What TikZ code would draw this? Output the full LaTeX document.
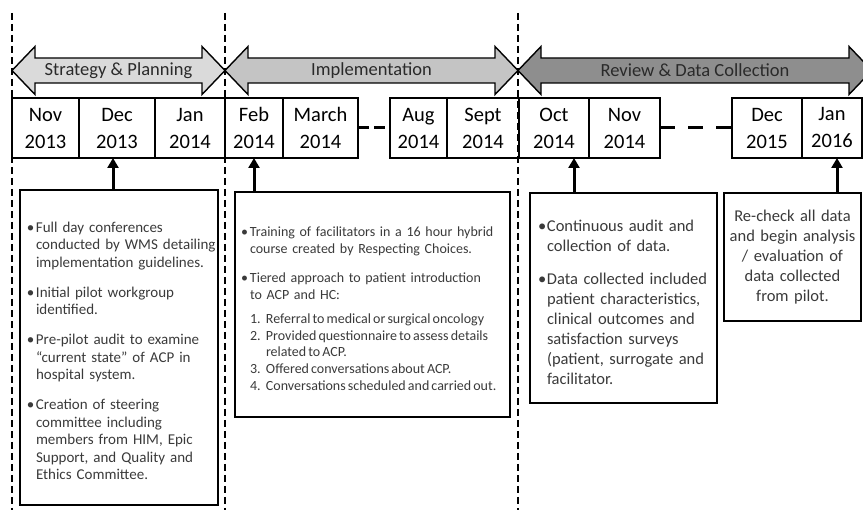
\documentclass[tikz,border=0pt]{standalone}
\usepackage{fontspec}
\setmainfont{Carlito}
\usepackage{tikz}
\usetikzlibrary{arrows.meta,calc}
\definecolor{planfill}{HTML}{DADADA}
\definecolor{implfill}{HTML}{C4C4C4}
\definecolor{reviewfill}{HTML}{8E8E8E}
\definecolor{textgray}{HTML}{3A3A3A}
\definecolor{labelgray}{HTML}{2A2A2A}
% hanging item: left offset, marker width, marker, text
\newcommand\hitem[4]{\par\hangindent=\dimexpr#1+#2\relax\hangafter=1\noindent
  \hspace*{#1}\makebox[#2][l]{#3}#4\par}
\newcommand\bitem[1]{\hitem{5pt}{9pt}{\textbullet}{#1}}
\newcommand\nitem[2]{\hitem{15pt}{16pt}{#1.}{#2}}

\begin{document}
\begin{tikzpicture}[x=1pt,y=-1pt,
    vline/.style={line width=1.8, dash pattern=on 7 off 4},
    phase/.style={draw, line width=1.4, line join=miter},
    phaselabel/.style={font=\fontsize{18.5}{22}\selectfont, text=labelgray},
    monthbox/.style={draw, line width=1.3, minimum height=60, outer sep=0,
                     inner sep=0, align=center, font=\fontsize{20.5}{27}\selectfont},
    notebox/.style={draw, line width=2.4, outer sep=0, inner sep=0,
                    align=left, text=textgray},
    uparrow/.style={line width=3, -{Triangle[length=10pt,width=11pt]}},
    gapdash/.style={line width=3}]
  \useasboundingbox (0,0) rectangle (863,510);
  \clip (0,0) rectangle (863,510);
  % phase separators
  \foreach \xv in {12,225,518}
    \draw[vline] (\xv,13) -- (\xv,510);
  % phase arrows
  \draw[phase, fill=planfill] (12,70.5) -- (35,46.5) -- (35,58) -- (202,58)
    -- (202,46.5) -- (225,70.5) -- (202,94.5) -- (202,83) -- (35,83) -- (35,94.5) -- cycle;
  \draw[phase, fill=implfill] (225,70.5) -- (248,46.5) -- (248,58) -- (495,58)
    -- (495,46.5) -- (518,70.5) -- (495,94.5) -- (495,83) -- (248,83) -- (248,94.5) -- cycle;
  \draw[phase, fill=reviewfill] (518,70.5) -- (541,46.5) -- (541,58) -- (849,58)
    -- (849,46.5) -- (872,70.5) -- (849,94.5) -- (849,83) -- (541,83) -- (541,94.5) -- cycle;
  \node[phaselabel] (strategy) at (118.5,70.5) {Strategy \& Planning};
  \node[phaselabel] (implement) at (371.5,70.5) {Implementation};
  \node[phaselabel] (review) at (695,70.5) {Review \& Data Collection};
  % months
  \foreach \nm/\xa/\xb/\mon/\yr in {nov13/12/79/Nov/2013, dec13/79/155/Dec/2013,
      jan14/155/225/Jan/2014, feb14/225/283/Feb/2014, mar14/283/358/March/2014,
      aug14/390/447/Aug/2014, sep14/447/519/Sept/2014, oct14/519/589/Oct/2014,
      nov14/589/660/Nov/2014, dec15/732/802/Dec/2015, jan16/802/862/Jan/2016}
    \node[monthbox, minimum width={\xb-\xa}] (\nm) at ({(\xa+\xb)/2},128) {\mon\\\yr};
  \draw[gapdash, dash pattern=on 11 off 5] (mar14.east) -- (aug14.west);
  \draw[gapdash, dash pattern=on 15 off 13] (nov14.east) -- (dec15.west);
  % detail boxes
  \node[notebox, minimum width=198, minimum height=315, text width=194,
        font=\fontsize{15}{17.5}\selectfont] (planbox) at (119,347.5) {%
    \bitem{Full day conferences\newline conducted by WMS detailing\newline implementation guidelines.}
    \vspace{12.5pt}
    \bitem{Initial pilot workgroup\newline identified.}
    \vspace{12.5pt}
    \bitem{Pre-pilot audit to examine\newline “current state” of ACP in\newline hospital system.}
    \vspace{12.5pt}
    \bitem{Creation of steering\newline committee including\newline members from HIM, Epic\newline Support, and Quality and\newline Ethics Committee.}};
  \node[notebox, minimum width=275, minimum height=225, text width=275,
        font=\fontsize{14}{17.5}\selectfont] (implbox) at (372.5,304.5) {%
    \hitem{6pt}{9pt}{\textbullet}{Training of facilitators in a 16 hour hybrid\newline course created by Respecting Choices.}
    \vspace{11pt}
    \hitem{6pt}{9pt}{\textbullet}{Tiered approach to patient introduction\newline to ACP and HC:}
    \vspace{7pt}
    {\fontsize{14}{16.7}\selectfont\spaceskip=0.15em plus 0.05em
    \nitem{1}{Referral to medical or surgical oncology}
    \nitem{2}{Provided questionnaire to assess details\newline related to ACP.}
    \nitem{3}{Offered conversations about ACP.}
    \nitem{4}{Conversations scheduled and carried out.}}};
  \node[notebox, minimum width=187, minimum height=210, text width=171,
        font=\fontsize{16.5}{20}\selectfont] (reviewbox) at (623.5,298) {%
    \hitem{0pt}{9pt}{\textbullet}{Continuous audit and\newline collection of data.}
    \vspace{13pt}
    \hitem{0pt}{9pt}{\textbullet}{Data collected included\newline patient characteristics,\newline clinical outcomes and\newline satisfaction surveys\newline (patient, surrogate and\newline facilitator.}};
  \node[notebox, minimum width=137, minimum height=128, text width=130, align=center,
        font=\fontsize{16.5}{20}\selectfont] (analysisbox) at (792.5,257)
    {Re-check all data\\and begin analysis\\/ evaluation of\\data collected\\from pilot.};
  % links from boxes to months
  \coordinate (pa) at ([xshift=-6]planbox.north);
  \draw[uparrow] (pa) -- (pa |- dec13.south);
  \draw[uparrow] (feb14.south |- implbox.north) -- (feb14.south);
  \coordinate (ra) at ([xshift=44]reviewbox.north west);
  \draw[uparrow] (ra) -- (ra |- oct14.south);
  \coordinate (aa) at ([xshift=-24]analysisbox.north east);
  \draw[uparrow] (aa) -- (aa |- jan16.south);
\end{tikzpicture}
\end{document}
